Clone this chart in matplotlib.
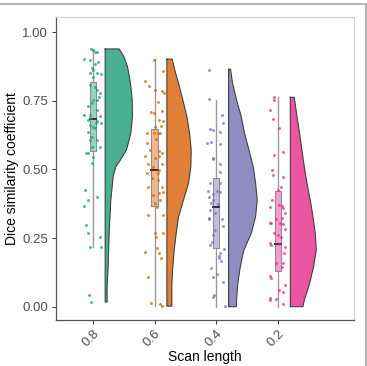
import numpy as np
import matplotlib
matplotlib.use("Agg")
import matplotlib.pyplot as plt
from matplotlib.lines import Line2D

plt.rcParams['font.family'] = ['Liberation Sans', 'DejaVu Sans']

groups = ['0.8', '0.6', '0.4', '0.2']
colors = ['#1B9E77', '#D95F02', '#7570B3', '#E7298A']

# boxplot stats: whisker low, q1, median, q3, whisker high
box_stats = [
    [0.216, 0.569, 0.685, 0.819, 0.939],
    [0.002, 0.368, 0.498, 0.649, 0.902],
    [0.000, 0.215, 0.364, 0.468, 0.753],
    [0.000, 0.130, 0.227, 0.423, 0.763],
]

# jittered points: values and horizontal jitter
pts_08 = [0.939, 0.936, 0.927, 0.927, 0.904, 0.899, 0.891, 0.883, 0.869, 0.863, 0.851, 0.851, 0.838, 0.848,
          0.808, 0.800, 0.790, 0.778, 0.765, 0.753, 0.753, 0.741, 0.731, 0.717, 0.699, 0.699, 0.693, 0.687,
          0.680, 0.678, 0.668, 0.671, 0.662, 0.656, 0.650, 0.638, 0.620, 0.608, 0.608, 0.583, 0.583, 0.559,
          0.559, 0.547, 0.522, 0.425, 0.389, 0.367, 0.401, 0.296, 0.270, 0.216, 0.253, 0.216, 0.044, 0.017]
jit_08 = [-0.03, 0.005, 0.04, 0.065, -0.14, -0.04, 0.09, 0.03, -0.01, 0.01, -0.05, 0.065, 0.0, 0.135,
          -0.04, 0.03, 0.075, 0.11, 0.10, 0.01, 0.065, -0.015, -0.085, 0.065, -0.05, -0.14, 0.12, -0.04,
          -0.07, 0.065, 0.055, 0.13, -0.04, 0.0, 0.04, -0.085, -0.015, 0.065, -0.04, 0.12, -0.015, -0.11,
          -0.085, 0.0, -0.01, -0.13, -0.085, -0.15, 0.065, -0.11, -0.085, -0.04, 0.11, 0.13, -0.065, -0.03]

pts_06 = [0.899, 0.857, 0.823, 0.804, 0.790, 0.787, 0.778, 0.747, 0.711, 0.707, 0.714, 0.680, 0.678, 0.656,
          0.659, 0.634, 0.634, 0.634, 0.632, 0.610, 0.595, 0.571, 0.569, 0.561, 0.549, 0.541, 0.549, 0.519,
          0.519, 0.510, 0.498, 0.486, 0.486, 0.468, 0.462, 0.437, 0.437, 0.416, 0.419, 0.407, 0.389, 0.377,
          0.365, 0.334, 0.334, 0.267, 0.255, 0.270, 0.200, 0.213, 0.194, 0.176, 0.108, 0.012, 0.010, 0.002]
jit_06 = [-0.01, 0.13, -0.155, -0.085, 0.015, 0.115, 0.15, 0.05, -0.06, -0.005, 0.12, 0.065, 0.135, 0.015,
          0.105, -0.125, -0.015, 0.05, 0.09, 0.025, -0.125, -0.08, 0.08, 0.125, -0.15, 0.0, 0.065, -0.1,
          0.12, -0.025, 0.065, 0.05, -0.125, -0.045, 0.05, -0.1, 0.12, 0.08, 0.13, -0.03, 0.09, 0.015,
          0.04, -0.1, 0.13, 0.01, 0.025, 0.135, -0.15, 0.04, 0.07, 0.11, -0.1, -0.055, 0.09, 0.125]

pts_04 = [0.863, 0.756, 0.699, 0.646, 0.644, 0.671, 0.638, 0.598, 0.601, 0.593, 0.537, 0.541, 0.520, 0.491,
          0.450, 0.450, 0.420, 0.423, 0.411, 0.419, 0.401, 0.389, 0.377, 0.374, 0.352, 0.340, 0.321, 0.318,
          0.294, 0.279, 0.261, 0.236, 0.225, 0.210, 0.194, 0.185, 0.179, 0.140, 0.168, 0.091, 0.107, 0.119,
          0.043, 0.034, 0.002, 0.322]
jit_04 = [-0.125, -0.12, 0.09, -0.1, -0.045, 0.11, 0.065, -0.15, -0.085, 0.065, -0.06, -0.045, 0.055, 0.065,
          -0.1, 0.065, -0.14, 0.01, -0.055, 0.065, -0.125, -0.045, -0.085, 0.03, -0.1, -0.02, 0.09, -0.11,
          0.11, -0.015, -0.045, -0.065, -0.1, 0.13, 0.065, 0.04, 0.05, -0.085, 0.075, 0.11, -0.045, 0.01,
          -0.03, -0.06, 0.15, -0.11]

pts_02 = [0.763, 0.753, 0.717, 0.684, 0.650, 0.565, 0.553, 0.498, 0.480, 0.474, 0.425, 0.371, 0.437, 0.389,
          0.365, 0.367, 0.358, 0.340, 0.321, 0.306, 0.306, 0.306, 0.301, 0.284, 0.267, 0.255, 0.231, 0.225,
          0.228, 0.219, 0.194, 0.158, 0.146, 0.158, 0.111, 0.106, 0.079, 0.055, 0.061, 0.030, 0.024, 0.010,
          0.027, 0.261, 0.324]
jit_02 = [-0.06, -0.06, -0.135, -0.08, 0.01, 0.09, -0.06, -0.09, -0.08, 0.08, -0.005, 0.015, 0.05, -0.1,
          -0.135, 0.065, 0.09, 0.11, -0.025, -0.135, -0.115, 0.04, 0.08, 0.11, -0.07, 0.05, -0.135, -0.115,
          0.025, 0.12, 0.1, -0.03, 0.065, 0.09, -0.135, -0.115, 0.12, 0.075, 0.025, -0.135, -0.135, 0.09,
          -0.025, 0.005, 0.065]

points = [pts_08, pts_06, pts_04, pts_02]
jitters = [jit_08, jit_06, jit_04, jit_02]

# half-violin profiles: y levels and half widths
vy_08 = [0.939, 0.911, 0.875, 0.814, 0.753, 0.693, 0.632, 0.571, 0.535, 0.510, 0.474, 0.389, 0.267, 0.146, 0.073, 0.017]
vw_08 = [0.227, 0.303, 0.362, 0.411, 0.438, 0.443, 0.416, 0.346, 0.249, 0.173, 0.130, 0.092, 0.065, 0.049, 0.032, 0.032]
vy_06 = [0.902, 0.857, 0.814, 0.753, 0.693, 0.632, 0.571, 0.510, 0.450, 0.389, 0.328, 0.267, 0.207, 0.146, 0.085, 0.002]
vw_06 = [0.086, 0.135, 0.189, 0.259, 0.324, 0.368, 0.395, 0.389, 0.351, 0.270, 0.189, 0.151, 0.119, 0.097, 0.081, 0.081]
vy_04 = [0.865, 0.814, 0.753, 0.693, 0.632, 0.571, 0.510, 0.450, 0.389, 0.328, 0.267, 0.207, 0.146, 0.085, 0.024, 0.0]
vw_04 = [0.032, 0.065, 0.130, 0.205, 0.259, 0.330, 0.400, 0.438, 0.465, 0.438, 0.368, 0.249, 0.190, 0.150, 0.130, 0.125]
vy_02 = [0.763, 0.693, 0.632, 0.571, 0.510, 0.450, 0.389, 0.328, 0.267, 0.207, 0.146, 0.085, 0.024, 0.0]
vw_02 = [0.065, 0.108, 0.151, 0.189, 0.227, 0.270, 0.324, 0.368, 0.405, 0.422, 0.378, 0.314, 0.227, 0.205]

violin_y = [vy_08, vy_06, vy_04, vy_02]
violin_w = [vw_08, vw_06, vw_04, vw_02]

fig = plt.figure(figsize=(3.67, 3.66), dpi=100)
ax = fig.add_axes([0.152, 0.126, 0.813, 0.828])

for i, g in enumerate(groups):
    pos = i + 1
    c = colors[i]
    # half violin
    y = np.array(violin_y[i])
    w = np.array(violin_w[i])
    ax.fill_betweenx(y, pos + 0.2, pos + 0.2 + w, facecolor=c, alpha=0.8, edgecolor='none', zorder=2)
    xs = np.concatenate([[pos + 0.2], pos + 0.2 + w, [pos + 0.2], [pos + 0.2]])
    ys = np.concatenate([[y[0]], y, [y[-1]], [y[0]]])
    ax.plot(xs, ys, color='#3a3a3a', lw=0.75, zorder=3)

    # box and whiskers
    lo, q1, med, q3, hi = box_stats[i]
    ax.plot([pos, pos], [lo, q1], color='#9a9a9a', lw=1.0, zorder=2)
    ax.plot([pos, pos], [q3, hi], color='#9a9a9a', lw=1.0, zorder=2)
    bw = 0.05
    ax.fill([pos - bw, pos + bw, pos + bw, pos - bw], [q1, q1, q3, q3], facecolor=c, alpha=0.45,
            edgecolor='none', zorder=2)
    ax.plot([pos - bw, pos + bw, pos + bw, pos - bw, pos - bw], [q1, q1, q3, q3, q1],
            color='#8a8a8a', lw=0.7, zorder=3)
    ax.plot([pos - bw, pos + bw], [med, med], color='#333333', lw=1.4, zorder=4)

    # jittered points
    ax.scatter(pos + np.array(jitters[i]), points[i], s=4.5, color=c, alpha=0.75, lw=0, zorder=5)

ax.set_xlim(0.4, 5.235)
ax.set_ylim(-0.048, 1.056)
ax.set_xticks([1, 2, 3, 4])
ax.set_xticklabels(groups, rotation=45, ha='right', va='top', rotation_mode='anchor')
ax.set_yticks([0, 0.25, 0.5, 0.75, 1.0])
ax.set_yticklabels(['0.00', '0.25', '0.50', '0.75', '1.00'])
ax.tick_params(axis='both', labelsize=9.5, labelcolor='#4d4d4d', color='#333333', length=3, width=0.7,
               pad=2.5)
ax.set_xlabel('Scan length', fontsize=10, color='black', labelpad=1)
ax.set_ylabel('Dice similarity coefficient', fontsize=10, color='black', labelpad=2)

for side in ['left', 'bottom']:
    ax.spines[side].set_color('#555555')
    ax.spines[side].set_linewidth(0.9)
for side in ['top', 'right']:
    ax.spines[side].set_color('#d0d0d0')
    ax.spines[side].set_linewidth(0.8)

# screenshot frame
fig.add_artist(Line2D([0, 0.996], [0.989, 0.989], transform=fig.transFigure, color='#a8a8a8', lw=1.2))
fig.add_artist(Line2D([0.996, 0.996], [0.0, 0.989], transform=fig.transFigure, color='#a8a8a8', lw=1.2))

fig.savefig('out.png', dpi=100)
